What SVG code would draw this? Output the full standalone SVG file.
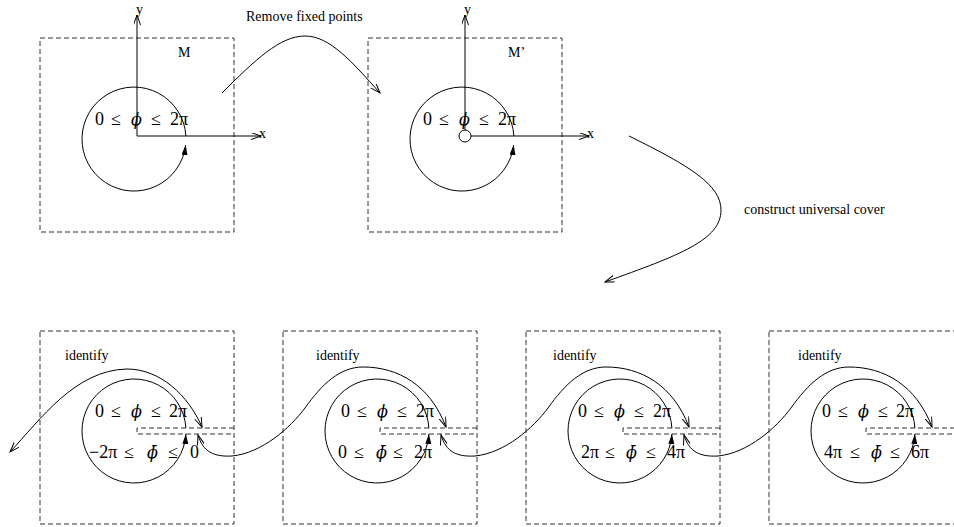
<svg xmlns="http://www.w3.org/2000/svg" width="954" height="527" viewBox="0 0 954 527">
<style>
.box{fill:none;stroke:#333;stroke-width:1;stroke-dasharray:5 3}
.cut{fill:none;stroke:#333;stroke-width:1;stroke-dasharray:5 3}
.ln{fill:none;stroke:#000;stroke-width:1}
.lbl{font-family:"Liberation Serif","Times New Roman",serif;font-size:14px;fill:#000}
.math{font-family:"Liberation Serif","DejaVu Serif",serif;font-size:18px;fill:#000}
.it{font-family:"DejaVu Serif",serif;font-style:italic;font-size:16px}
</style>
<defs>
<marker id="arr" markerUnits="userSpaceOnUse" markerWidth="12" markerHeight="8" refX="10" refY="3.5" orient="auto-start-reverse">
<path d="M0,0 L10,3.5 L0,7" fill="none" stroke="#000" stroke-width="1"/>
</marker>
<marker id="fil" markerUnits="userSpaceOnUse" markerWidth="12" markerHeight="8" refX="10" refY="3" orient="auto">
<path d="M0,0 L10,3 L0,6 Z" fill="#000"/>
</marker>
</defs>

<g id="node-M">
<rect class="box" x="40" y="38" width="194" height="194"/>
<path class="ln" d="M137,136 V15" marker-end="url(#arr)"/>
<path class="ln" d="M137,136 H261" marker-end="url(#arr)"/>
<text class="lbl" x="136" y="14">y</text>
<text class="lbl" x="259" y="138">x</text>
<text class="lbl" x="178" y="57">M</text>
<path class="ln" d="M185.9,136 A52,52 0 1 0 185.65,145" marker-end="url(#fil)"/>
<text class="math" y="125"><tspan x="95">0</tspan><tspan x="111">≤</tspan><tspan x="131" class="it">ϕ</tspan><tspan x="151">≤</tspan><tspan x="170">2π</tspan></text>
</g>

<g id="node-Mprime">
<rect class="box" x="368" y="38" width="194" height="194"/>
<circle class="ln" cx="465" cy="136" r="6"/>
<path class="ln" d="M465,130 V15" marker-end="url(#arr)"/>
<path class="ln" d="M471,136 H589" marker-end="url(#arr)"/>
<text class="lbl" x="464" y="14">y</text>
<text class="lbl" x="587" y="138">x</text>
<text class="lbl" x="508" y="57">M’</text>
<path class="ln" d="M513.9,136 A52,52 0 1 0 513.65,145" marker-end="url(#fil)"/>
<text class="math" y="125"><tspan x="423">0</tspan><tspan x="439">≤</tspan><tspan x="459" class="it">ϕ</tspan><tspan x="479">≤</tspan><tspan x="498">2π</tspan></text>
</g>

<g id="node-cover1">
<rect class="box" x="40" y="331" width="194" height="193"/>
<path class="cut" d="M234,428 H137 V434 H234"/>
<path class="ln" d="M185.9,428 A52,52 0 1 0 185.9,434" marker-end="url(#fil)"/>
<text class="lbl" x="65" y="360">identify</text>
<text class="math" y="417"><tspan x="95">0</tspan><tspan x="111">≤</tspan><tspan x="131" class="it">ϕ</tspan><tspan x="151">≤</tspan><tspan x="169">2π</tspan></text>
<text class="math" y="458"><tspan x="89">−2π</tspan><tspan x="124">≤</tspan><tspan x="147" class="it">ϕ̄</tspan><tspan x="168">≤</tspan><tspan x="190">0</tspan></text>
</g>

<g id="node-cover2">
<rect class="box" x="283" y="331" width="194" height="193"/>
<path class="cut" d="M477,428 H380 V434 H477"/>
<path class="ln" d="M428.9,428 A52,52 0 1 0 428.9,434" marker-end="url(#fil)"/>
<text class="lbl" x="316" y="360">identify</text>
<text class="math" y="417"><tspan x="341">0</tspan><tspan x="357">≤</tspan><tspan x="377" class="it">ϕ</tspan><tspan x="397">≤</tspan><tspan x="416">2π</tspan></text>
<text class="math" y="458"><tspan x="338">0</tspan><tspan x="354">≤</tspan><tspan x="376" class="it">ϕ̄</tspan><tspan x="393">≤</tspan><tspan x="414">2π</tspan></text>
</g>

<g id="node-cover3">
<rect class="box" x="526" y="331" width="194" height="193"/>
<path class="cut" d="M720,428 H623 V434 H720"/>
<path class="ln" d="M671.9,428 A52,52 0 1 0 671.9,434" marker-end="url(#fil)"/>
<text class="lbl" x="553" y="360">identify</text>
<text class="math" y="417"><tspan x="578">0</tspan><tspan x="594">≤</tspan><tspan x="614" class="it">ϕ</tspan><tspan x="634">≤</tspan><tspan x="653">2π</tspan></text>
<text class="math" y="458"><tspan x="581">2π</tspan><tspan x="605">≤</tspan><tspan x="626" class="it">ϕ̄</tspan><tspan x="646">≤</tspan><tspan x="667">4π</tspan></text>
</g>

<g id="node-cover4">
<rect class="box" x="769" y="331" width="194" height="193"/>
<path class="cut" d="M963,428 H866 V434 H963"/>
<path class="ln" d="M914.9,428 A52,52 0 1 0 914.9,434" marker-end="url(#fil)"/>
<text class="lbl" x="798" y="360">identify</text>
<text class="math" y="417"><tspan x="822">0</tspan><tspan x="838">≤</tspan><tspan x="858" class="it">ϕ</tspan><tspan x="878">≤</tspan><tspan x="896">2π</tspan></text>
<text class="math" y="458"><tspan x="824">4π</tspan><tspan x="850">≤</tspan><tspan x="871" class="it">ϕ̄</tspan><tspan x="890">≤</tspan><tspan x="911">6π</tspan></text>
</g>

<g id="connectors">
<path class="ln" d="M222,93 C255,60 280,36 305,36 C330,36 352,62 380,93" marker-end="url(#arr)"/>
<text class="lbl" x="246" y="21">Remove fixed points</text>
<path class="ln" d="M629,136 C690,166 721,185 721,210 C721,240 680,255 605,282" marker-end="url(#arr)"/>
<text class="lbl" x="744" y="214">construct universal cover</text>
<path class="ln" d="M10,452 C40,420 75,370 127,369 C160,369 188,395 202,427" marker-start="url(#arr)" marker-end="url(#arr)"/>
<path class="ln" d="M198,435 C203,452 214,457 232,456 C262,453 290,428 305,408 C322,384 340,367 363,367 C398,367 430,385 446,427" marker-start="url(#arr)" marker-end="url(#arr)"/>
<path class="ln" transform="translate(243,0)" d="M198,435 C203,452 214,457 232,456 C262,453 290,428 305,408 C322,384 340,367 363,367 C398,367 430,385 446,427" marker-start="url(#arr)" marker-end="url(#arr)"/>
<path class="ln" transform="translate(486,0)" d="M198,435 C203,452 214,457 232,456 C262,453 290,428 305,408 C322,384 340,367 363,367 C398,367 430,385 446,427" marker-start="url(#arr)" marker-end="url(#arr)"/>
</g>
</svg>
